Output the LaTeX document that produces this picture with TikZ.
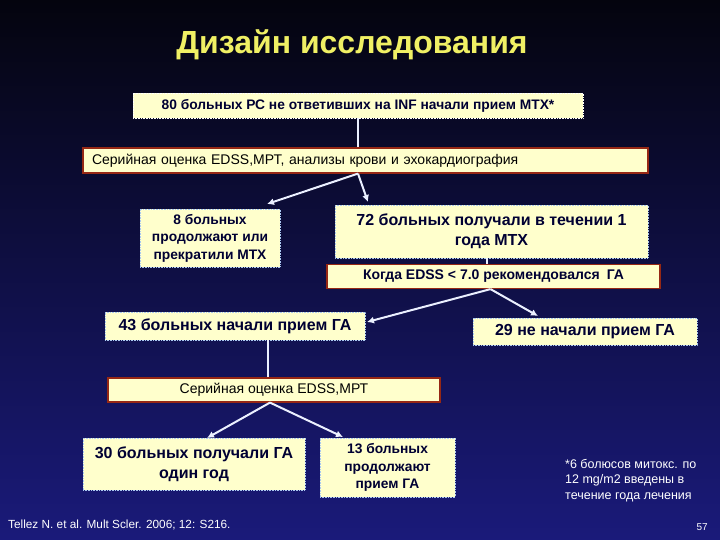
\documentclass[tikz,border=0pt]{standalone}
\usepackage{fontspec}
\setmainfont{Liberation Sans}
\usepackage{xcolor}
\usepackage{tikz}
\usetikzlibrary{positioning, arrows.meta, calc}
\definecolor{bgtop}{RGB}{4, 4, 14}
\definecolor{bgbottom}{RGB}{26, 26, 122}
\definecolor{boxyellow}{RGB}{255, 255, 204}
\definecolor{boxtext}{RGB}{0, 0, 51}
\definecolor{titleyellow}{RGB}{240, 240, 100}
\definecolor{rimred}{RGB}{150, 40, 20}
\definecolor{rimblue}{RGB}{170, 200, 240}
\definecolor{linkwhite}{RGB}{235, 240, 255}

\begin{document}
\begin{tikzpicture}[x=1pt, y=-1pt,
  resbox/.style={rectangle, draw=rimblue, densely dotted, line width=0.6pt,
    fill=boxyellow, text=boxtext, align=center, inner sep=0pt,
    font=\fontsize{16}{20}\selectfont\bfseries},
  smallres/.style={resbox, font=\fontsize{13.8}{17.5}\selectfont\bfseries},
  serbox/.style={rectangle, draw=rimred, line width=1.2pt, fill=boxyellow,
    text=black, inner sep=0pt, font=\fontsize{14}{16}\selectfont},
  link/.style={draw=linkwhite, line width=2pt},
  flow/.style={link, -{Latex[length=7pt, width=7pt]}},
  note/.style={text=white, align=left, inner sep=0pt}
]
  \shade[top color=bgtop, bottom color=bgbottom] (0,0) rectangle (720,540);

  \node[text=titleyellow, font=\fontsize{32}{34}\selectfont\bfseries] (title) at (352,45) {Дизайн исследования};

  % first stage: MTX
  \node[smallres, font=\fontsize{13.8}{16}\selectfont\bfseries, draw=white, minimum width=450pt, minimum height=25pt] (b80) at (358,105.5)
    {80 больных РС не ответивших на INF начали прием МТХ*};
  \node[serbox, text width=547pt, inner xsep=9pt, align=left, minimum height=25pt] (ser1) at (365.5,160.5)
    {Серийная оценка EDSS,МРТ, анализы крови и эхокардиография};
  \node[smallres, minimum width=140pt, minimum height=58pt] (b8) at (210,238)
    {8 больных\\продолжают или\\прекратили МТХ};
  \node[resbox, minimum width=313pt, minimum height=53pt] (b72) at (491.5,231.5)
    {72 больных получали в течении 1\\года МТХ};
  \node[serbox, font=\fontsize{14}{16}\selectfont\bfseries, text=boxtext, minimum width=333pt, minimum height=24pt] (kogda) at (493.5,276.5)
    {Когда EDSS < 7.0 рекомендовался\enspace ГА};

  % second stage: GA
  \node[resbox, minimum width=260pt, minimum height=28pt] (b43) at (235,326)
    {43 больных начали прием ГА};
  \node[resbox, minimum width=224pt, minimum height=27pt] (b29) at (585,331.5)
    {29 не начали прием ГА};
  \node[serbox, minimum width=332pt, minimum height=24pt] (ser2) at (274,390)
    {Серийная оценка EDSS,МРТ};
  \node[resbox, minimum width=222pt, minimum height=52pt] (b30) at (194,464)
    {30 больных получали ГА\\один год};
  \node[smallres, minimum width=135pt, minimum height=59pt] (b13) at (387.5,467.5)
    {13 больных\\продолжают\\прием ГА};

  % free ends of the arrows
  \coordinate (h8) at (267,204);
  \coordinate (h72) at (368,202);
  \coordinate (h43) at (367,322);
  \coordinate (h29) at (538,316);
  \coordinate (h30) at (207,438);
  \coordinate (h13) at (343,437);

  \draw[link] (b80.south) -- (b80.south |- ser1.north);
  \draw[flow] (b80.south |- ser1.south) -- (h8);
  \draw[flow] (b80.south |- ser1.south) -- (h72);
  \draw[link] ([xshift=-5pt]b72.south) -- ([xshift=-5pt]b72.south |- kogda.north);
  \draw[flow] ([xshift=-3pt]kogda.south) -- (h43);
  \draw[flow] ([xshift=-3pt]kogda.south) -- (h29);
  \draw[link] ([xshift=33pt]b43.south) -- ([xshift=33pt]b43.south |- ser2.north);
  \draw[flow] ([xshift=-4pt]ser2.south) -- (h30);
  \draw[flow] ([xshift=-4pt]ser2.south) -- (h13);

  \node[note, anchor=north west, font=\fontsize{12.5}{15.5}\selectfont] (foot) at (565,459)
    {*6 болюсов митокс. по\\12 mg/m2 введены в\\течение года лечения};
  \node[note, anchor=west, font=\fontsize{11.8}{13}\selectfont] (ref) at (8,525)
    {Tellez N. et al. Mult Scler. 2006; 12: S216.};
  \node[note, anchor=east, font=\fontsize{10}{11}\selectfont] (page) at (708,527) {57};
\end{tikzpicture}
\end{document}
